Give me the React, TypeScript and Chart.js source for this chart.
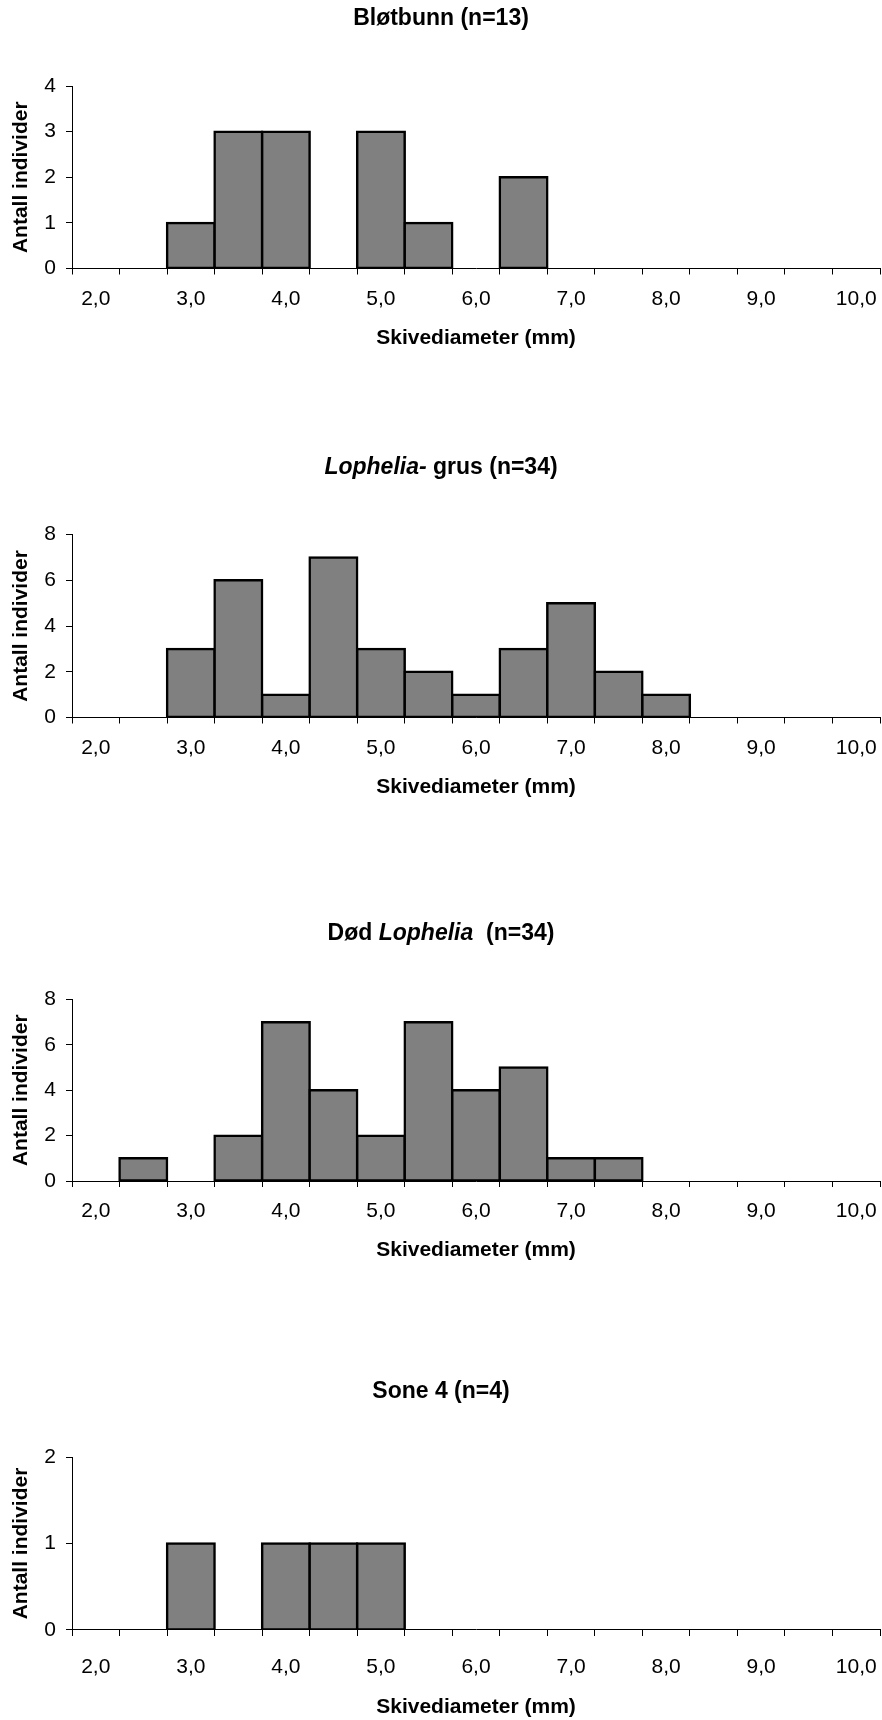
import React, { useEffect, useRef } from "react";
import { Chart, registerables } from "chart.js";

Chart.register(...registerables);

// ---- data ----
const binValues = [2.0, 2.5, 3.0, 3.5, 4.0, 4.5, 5.0, 5.5, 6.0, 6.5, 7.0, 7.5, 8.0, 8.5, 9.0, 9.5, 10.0];
const xTickLabels = ["2,0", "", "3,0", "", "4,0", "", "5,0", "", "6,0", "", "7,0", "", "8,0", "", "9,0", "", "10,0"];

const blotbunnCounts = [0, 0, 1, 3, 3, 0, 3, 1, 0, 2, 0, 0, 0, 0, 0, 0, 0];
const lopheliaGrusCounts = [0, 0, 3, 6, 1, 7, 3, 2, 1, 3, 5, 2, 1, 0, 0, 0, 0];
const dodLopheliaCounts = [0, 1, 0, 2, 7, 4, 2, 7, 4, 5, 1, 1, 0, 0, 0, 0, 0];
const sone4Counts = [0, 0, 1, 0, 1, 1, 1, 0, 0, 0, 0, 0, 0, 0, 0, 0, 0];

const blotbunnTitle = [{ text: "Bløtbunn (n=13)", italic: false }];
const lopheliaGrusTitle = [
  { text: "Lophelia-", italic: true },
  { text: " grus (n=34)", italic: false },
];
const dodLopheliaTitle = [
  { text: "Død ", italic: false },
  { text: "Lophelia", italic: true },
  { text: "  (n=34)", italic: false },
];
const sone4Title = [{ text: "Sone 4 (n=4)", italic: false }];

const yAxisTitle = "Antall individer";
const xAxisTitle = "Skivediameter (mm)";

const FONT = "'Liberation Sans', Arial, Helvetica, sans-serif";

type Seg = { text: string; italic: boolean };

const segTitlePlugin = {
  id: "segTitle",
  afterDraw(chart: any, _args: any, opts: any) {
    const segs: Seg[] = opts.segments || [];
    const ctx = chart.ctx as CanvasRenderingContext2D;
    ctx.save();
    ctx.fillStyle = "#000";
    ctx.textBaseline = "alphabetic";
    ctx.textAlign = "left";
    const fontFor = (s: Seg) => `${s.italic ? "italic " : ""}bold ${opts.size}px ${FONT}`;
    let total = 0;
    const widths = segs.map((s) => {
      ctx.font = fontFor(s);
      const w = ctx.measureText(s.text).width;
      total += w;
      return w;
    });
    let x = opts.cx - total / 2;
    segs.forEach((s, i) => {
      ctx.font = fontFor(s);
      ctx.fillText(s.text, x, opts.baseline);
      x += widths[i];
    });
    ctx.restore();
  },
};

type PanelProps = {
  top: number;
  height: number;
  counts: number[];
  title: Seg[];
  titleBaseline: number;
  plotTop: number;
  plotBottom: number;
  yMax: number;
  yStep: number;
  labelPad: number;
  xScaleHeight: number;
};

function Panel(p: PanelProps) {
  const ref = useRef<HTMLCanvasElement | null>(null);
  useEffect(() => {
    if (!ref.current) return;
    const padTop = p.plotTop - p.top;
    const padBottom = p.top + p.height - (p.plotBottom + p.xScaleHeight);
    const chart = new Chart(ref.current, {
      type: "bar",
      data: {
        labels: binValues.map((v) => v.toFixed(1)),
        datasets: [
          {
            data: p.counts.map((c) => (c === 0 ? null : c)),
            backgroundColor: "#808080",
            borderColor: "#000000",
            borderWidth: 2.5,
            borderSkipped: false,
            inflateAmount: 1.25,
            barPercentage: 1,
            categoryPercentage: 1,
          } as any,
        ],
      },
      options: {
        animation: false,
        responsive: false,
        devicePixelRatio: 1,
        layout: { padding: { left: 0, right: 2, top: padTop, bottom: padBottom } },
        plugins: {
          legend: { display: false },
          tooltip: { enabled: false },
          title: { display: false },
          segTitle: { segments: p.title, baseline: p.titleBaseline - p.top, cx: 441, size: 23 },
        } as any,
        scales: {
          x: {
            type: "category",
            offset: true,
            grid: {
              offset: true,
              drawOnChartArea: false,
              drawTicks: true,
              tickLength: 6,
              color: "#000",
              lineWidth: 1,
            },
            border: { display: true, color: "#000", width: 1 },
            ticks: {
              autoSkip: false,
              maxRotation: 0,
              minRotation: 0,
              padding: p.labelPad,
              color: "#000",
              font: { family: FONT, size: 21 },
              callback: (_v: any, i: number) => xTickLabels[i],
            },
            title: {
              display: true,
              text: xAxisTitle,
              color: "#000",
              font: { family: FONT, size: 21, weight: "bold" },
              padding: { top: 0, bottom: 0 },
            },
            afterFit: (s: any) => {
              s.height = p.xScaleHeight;
              s.paddingLeft = 0;
              s.paddingRight = 0;
            },
          },
          y: {
            min: 0,
            max: p.yMax,
            grid: {
              drawOnChartArea: false,
              drawTicks: true,
              tickLength: 6,
              color: "#000",
              lineWidth: 1,
            },
            border: { display: true, color: "#000", width: 1 },
            ticks: {
              stepSize: p.yStep,
              padding: 10,
              color: "#000",
              font: { family: FONT, size: 21 },
            },
            title: {
              display: true,
              text: yAxisTitle,
              color: "#000",
              font: { family: FONT, size: 21, weight: "bold" },
              padding: { top: 8.4, bottom: 0 },
            },
            afterFit: (s: any) => {
              s.width = 72;
            },
          },
        },
      } as any,
      plugins: [segTitlePlugin as any],
    });
    return () => chart.destroy();
  }, []);
  return (
    <canvas
      ref={ref}
      width={882}
      height={p.height}
      style={{ position: "absolute", left: 0, top: p.top, width: 882, height: p.height, display: "block" }}
    />
  );
}

export default function App() {
  return (
    <div style={{ position: "absolute", left: 0, top: 0, width: 882, height: 1720, background: "#fff" }}>
      <Panel top={0} height={420} counts={blotbunnCounts} title={blotbunnTitle} titleBaseline={25}
        plotTop={86} plotBottom={268.5} yMax={4} yStep={1} labelPad={12} xScaleHeight={82} />
      <Panel top={420} height={460} counts={lopheliaGrusCounts} title={lopheliaGrusTitle} titleBaseline={474}
        plotTop={534.5} plotBottom={717.5} yMax={8} yStep={2} labelPad={12} xScaleHeight={82} />
      <Panel top={880} height={460} counts={dodLopheliaCounts} title={dodLopheliaTitle} titleBaseline={939.5}
        plotTop={999.5} plotBottom={1181} yMax={8} yStep={2} labelPad={12} xScaleHeight={82} />
      <Panel top={1340} height={380} counts={sone4Counts} title={sone4Title} titleBaseline={1398}
        plotTop={1457} plotBottom={1630} yMax={2} yStep={1} labelPad={18.4} xScaleHeight={89.6} />
    </div>
  );
}
